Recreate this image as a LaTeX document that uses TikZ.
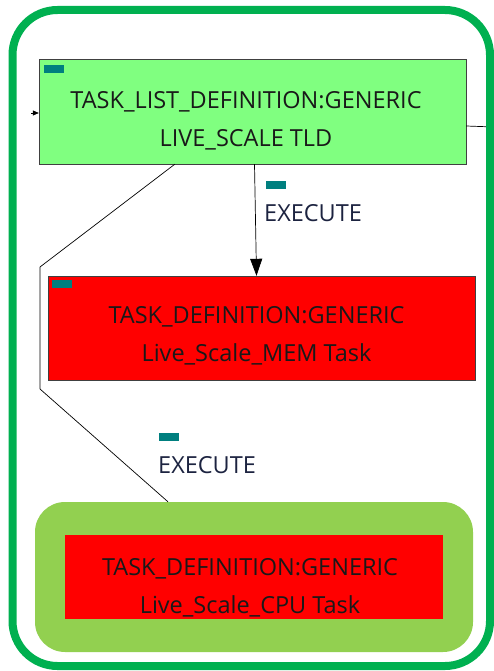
\documentclass[tikz,border=0pt]{standalone}
\usepackage{fontspec}
\setmainfont{Open Sans}
\usetikzlibrary{arrows.meta}
\definecolor{frameg}{HTML}{00B050}
\definecolor{tldg}{HTML}{80FF80}
\definecolor{hlg}{HTML}{92D050}
\definecolor{tagc}{HTML}{007F7F}
\definecolor{lblc}{HTML}{1C2340}

\begin{document}
\begin{tikzpicture}[x=1pt, y=-1pt, every node/.style={inner sep=0pt}, >={Triangle[length=17pt,width=12pt]}]
    \tikzset{
        taskbox/.style={draw=black!75, minimum width=#1},
        boxtext/.style={align=center, text=black!90, font=\fontsize{23.5}{38}\selectfont},
        tag/.style={fill=tagc, minimum width=20pt, minimum height=8pt, anchor=north west},
        lbl/.style={anchor=west, text=lblc, font=\fontsize{23.5}{26}\selectfont},
        wire/.style={line width=0.7pt}
    }
    \useasboundingbox (0,0) rectangle (494,671);

    % task list definition
    \node[taskbox=427pt, fill=tldg, minimum height=105pt] (tld) at (252.5,111.5) {};
    \node[tag] (tldtag) at ([xshift=5pt, yshift=-6pt]tld.north west) {};
    \node[boxtext] (tldtxt) at (246,121) {TASK\_LIST\_DEFINITION:GENERIC\\LIVE\_SCALE TLD};

    % outside stubs
    \coordinate (instub) at (31,113);
    \coordinate (outstub) at (494,127);
    \draw[wire, -{Triangle[length=6pt,width=5pt]}] (instub) -- ([yshift=-1.5pt]tld.west);
    \draw[wire] (tld.east |- 0,126) -- (outstub);

    % memory task
    \node[taskbox=427pt, fill=red, minimum height=104pt] (mem) at (261.5,328) {};
    \node[tag] (memtag) at ([xshift=4pt, yshift=-4pt]mem.north west) {};
    \node[boxtext] (memtxt) at (256.5,336) {TASK\_DEFINITION:GENERIC\\Live\_Scale\_MEM Task};

    % cpu task (highlighted)
    \node[fill=hlg, rounded corners=30pt, minimum width=438pt, minimum height=150pt] (hl) at (254,577) {};
    \node[fill=red, minimum width=378pt, minimum height=84pt] (cpu) at (254,577) {};
    \node[boxtext] (cputxt) at (250,587.5) {TASK\_DEFINITION:GENERIC\\Live\_Scale\_CPU Task};

    % connectors
    \draw[wire, ->] ([xshift=2pt]tld.south) -- ([xshift=-5pt]mem.north);
    \node[tag] (exetag1) at (266,181) {};
    \node[lbl] (exe1) at (264,213) {EXECUTE};

    \coordinate (bend1) at (40,267);
    \coordinate (bend2) at (40,389);
    \draw[wire] ([xshift=136pt]tld.south west) -- (bend1) -- (bend2) -- ([xshift=-86pt]hl.north);
    \node[tag] (exetag2) at (159,433) {};
    \node[lbl] (exe2) at (158,465) {EXECUTE};

    % frame
    \draw[frameg, line width=8pt, rounded corners=45pt] (12.5,10) rectangle (490,666);
\end{tikzpicture}
\end{document}
